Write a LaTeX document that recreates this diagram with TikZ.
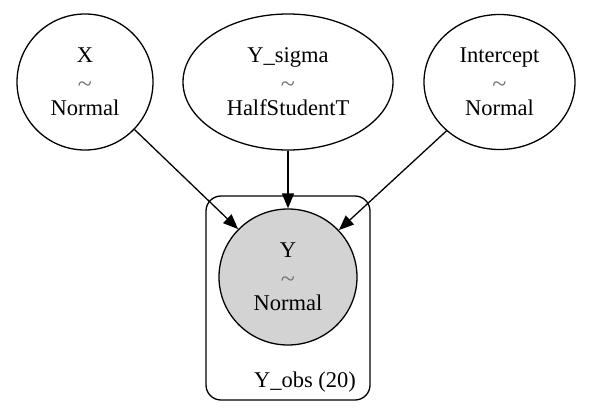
\documentclass[tikz,border=0pt]{standalone}
\usepackage{fontspec}
\setmainfont{Liberation Serif}
\usetikzlibrary{shapes.geometric,arrows.meta}
\definecolor{lgray}{RGB}{211,211,211}
\tikzset{
  rv/.style={ellipse, draw, line width=1.3pt, inner sep=0pt, align=center,
    font=\fontsize{22.5}{26.5}\selectfont},
  edge/.style={line width=1.3pt, -{Triangle[length=15pt,width=12pt]}},
}
\newcommand{\tld}{{\color{black!55}\raisebox{-3pt}{\fontsize{26}{20}\selectfont\textasciitilde}}}
\begin{document}
\begin{tikzpicture}[x=1pt,y=-1pt]
\useasboundingbox (0,0) rectangle (589,409);
\node[draw, line width=1.3pt, rounded corners=15pt, minimum width=164pt, minimum height=204pt, inner sep=0pt] (plate) at (288,298) {};
\node[font=\fontsize{22.5}{26.5}\selectfont, inner sep=0pt] (plabel) at (305,382) {Y\_obs (20)};
\node[rv, minimum width=136pt, minimum height=136pt] (X) at (85,82) {X\\\tld\\Normal};
\node[rv, minimum width=210pt, minimum height=136pt] (S) at (288,82) {Y\_sigma\\\tld\\HalfStudentT};
\node[rv, minimum width=151pt, minimum height=135pt] (I) at (499.5,82) {Intercept\\\tld\\Normal};
\node[rv, fill=lgray, minimum width=138pt, minimum height=136pt] (Y) at (288,277) {Y\\\tld\\Normal};
\draw[edge] (X) -- (Y);
\draw[edge] (S) -- (Y);
\draw[edge] (I) -- (Y);
\end{tikzpicture}
\end{document}
